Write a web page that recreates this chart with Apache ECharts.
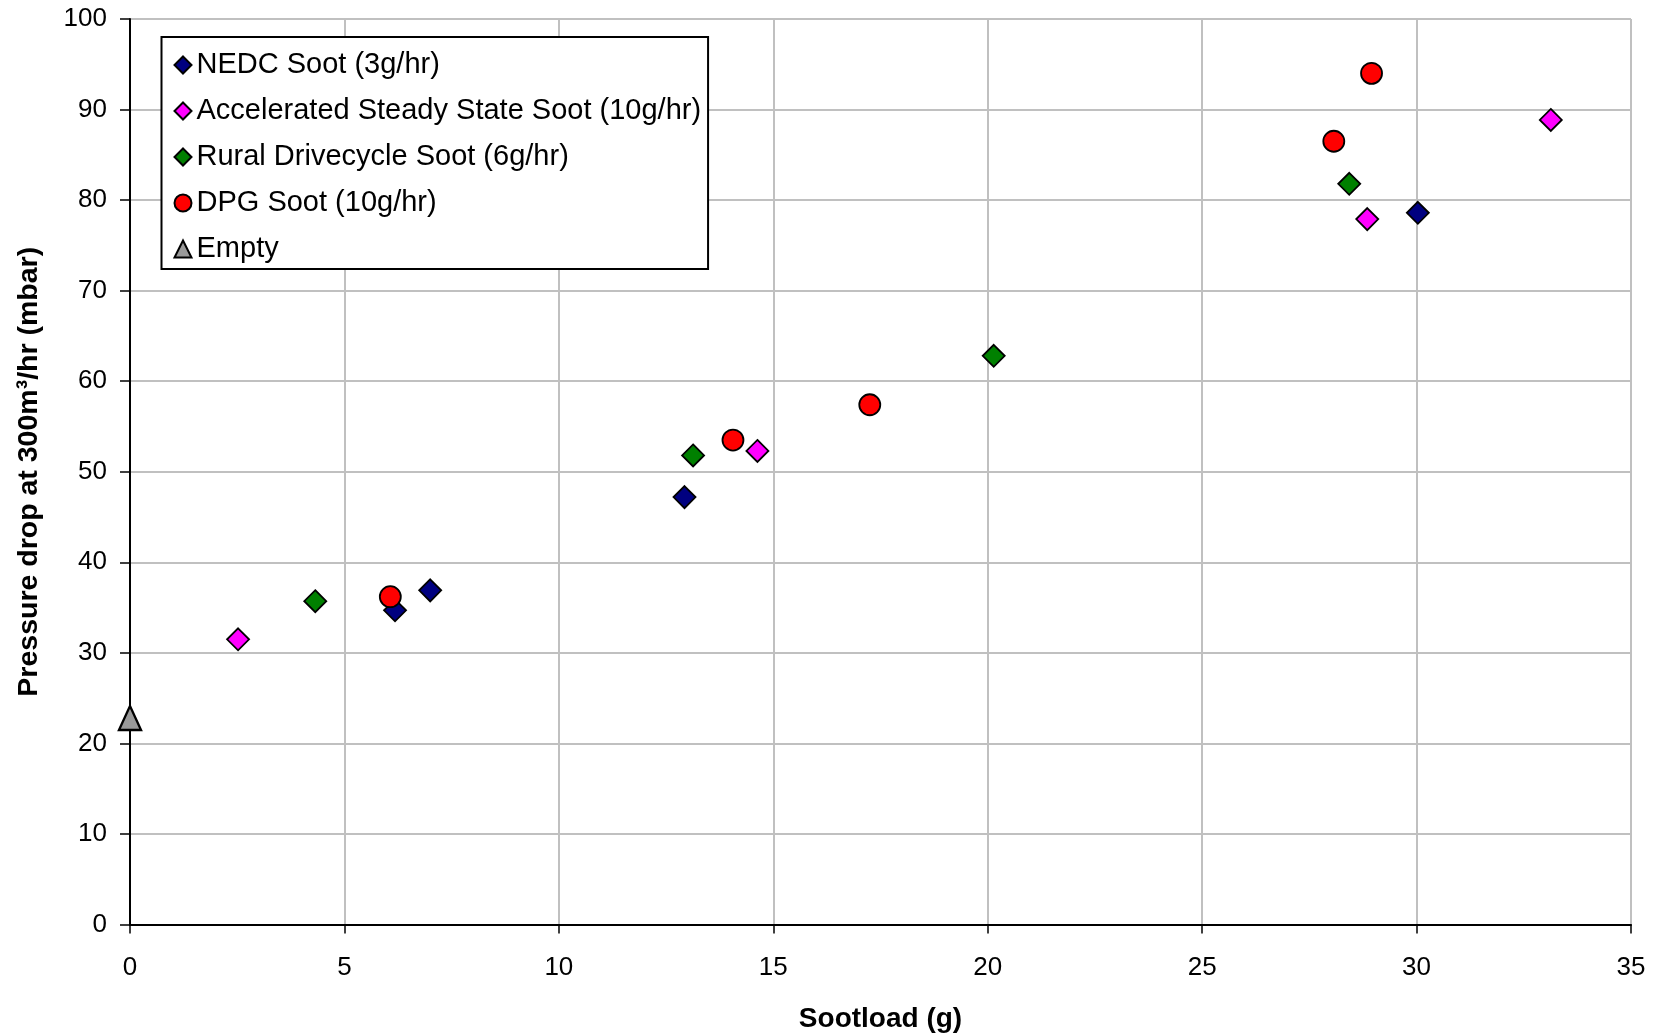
<!DOCTYPE html>
<html><head><meta charset="utf-8">
<script src="https://cdn.jsdelivr.net/npm/echarts@6/dist/echarts.min.js"></script>
<style>html,body{margin:0;padding:0;background:#fff}#c{width:1655px;height:1034px}</style>
</head><body><div id="c"></div>
<script>
var xTicks = [0,5,10,15,20,25,30,35];
var yTicks = [0,10,20,30,40,50,60,70,80,90,100];
var seriesNames = ['NEDC Soot (3g/hr)','Accelerated Steady State Soot (10g/hr)','Rural Drivecycle Soot (6g/hr)','DPG Soot (10g/hr)','Empty'];
var nedcX = [6.18, 7.0, 12.93, 30.03];
var nedcY = [34.7, 36.9, 47.2, 78.6];
var accX = [2.52, 14.63, 28.85, 33.13];
var accY = [31.5, 52.3, 77.9, 88.85];
var ruralX = [4.32, 13.13, 20.14, 28.43];
var ruralY = [35.7, 51.8, 62.8, 81.8];
var dpgX = [6.07, 14.06, 17.25, 28.07, 28.95];
var dpgY = [36.2, 53.5, 57.4, 86.5, 94.0];
var emptyX = [0];
var emptyY = [22.8];

function pts(xs, ys){ return xs.map(function(x,i){return [x, ys[i]];}); }
var colors = ['#000080','#ff00ff','#008000','#ff0000','#999999'];
var symbols = ['diamond','diamond','diamond','circle','triangle'];
var sizes = [22,22,22,21,[22,24]];
var data = [pts(nedcX,nedcY), pts(accX,accY), pts(ruralX,ruralY), pts(dpgX,dpgY), pts(emptyX,emptyY)];

var series = seriesNames.map(function(n,i){
  return {
    name: n, type: 'scatter', symbol: symbols[i], symbolSize: sizes[i],
    data: data[i], z: 3,
    itemStyle: {color: colors[i], borderColor: '#000', borderWidth: i===4 ? 2.4 : 1.8, opacity: 1}
  };
});

var chart = echarts.init(document.getElementById('c'), null, {renderer:'canvas'});
chart.setOption({
  animation: false,
  backgroundColor: '#fff',
  textStyle: {fontFamily: 'Liberation Sans, Arial, sans-serif', color: '#000'},
  grid: {left: 130, right: 24, top: 19, bottom: 109.5, containLabel: false, outerBoundsMode: 'none'},
  legend: {
    orient: 'vertical', left: 161.5, top: 37,
    data: seriesNames.map(function(n,i){return {name:n, icon: symbols[i]};}),
    itemWidth: 17, itemHeight: 17, itemGap: 16,
    padding: [13, 7, 5, 12],
    backgroundColor: '#fff', borderColor: '#000', borderWidth: 2,
    textStyle: {fontSize: 29, color: '#000', fontFamily: 'Liberation Sans, Arial, sans-serif', lineHeight: 30}
  },
  xAxis: {
    type: 'value', min: 0, max: 35, interval: 5,
    name: 'Sootload (g)', nameLocation: 'middle', nameGap: 80.5,
    nameTextStyle: {fontSize: 28, fontWeight: 'bold', color: '#000'},
    axisLine: {show: true, onZero: false, lineStyle: {color: '#000', width: 2}},
    axisTick: {show: true, length: 9, lineStyle: {color: '#000', width: 1.5}},
    axisLabel: {fontSize: 26, color: '#000', margin: 30.5, formatter: function(v){return xTicks.indexOf(v)>=0? String(v):'';}},
    splitLine: {show: true, lineStyle: {color: '#c0c0c0', width: 2}}
  },
  yAxis: {
    type: 'value', min: 0, max: 100, interval: 10,
    name: 'Pressure drop at 300m\u00b3/hr (mbar)', nameLocation: 'middle', nameGap: 86,
    nameTextStyle: {fontSize: 28.5, fontWeight: 'bold', color: '#000'},
    axisLine: {show: true, onZero: false, lineStyle: {color: '#000', width: 2}},
    axisTick: {show: true, length: 10, lineStyle: {color: '#000', width: 1.5}},
    axisLabel: {fontSize: 26, color: '#000', margin: 23, formatter: function(v){return yTicks.indexOf(v)>=0? String(v):'';}},
    splitLine: {show: true, lineStyle: {color: '#c0c0c0', width: 2}}
  },
  series: series
});
</script></body></html>
